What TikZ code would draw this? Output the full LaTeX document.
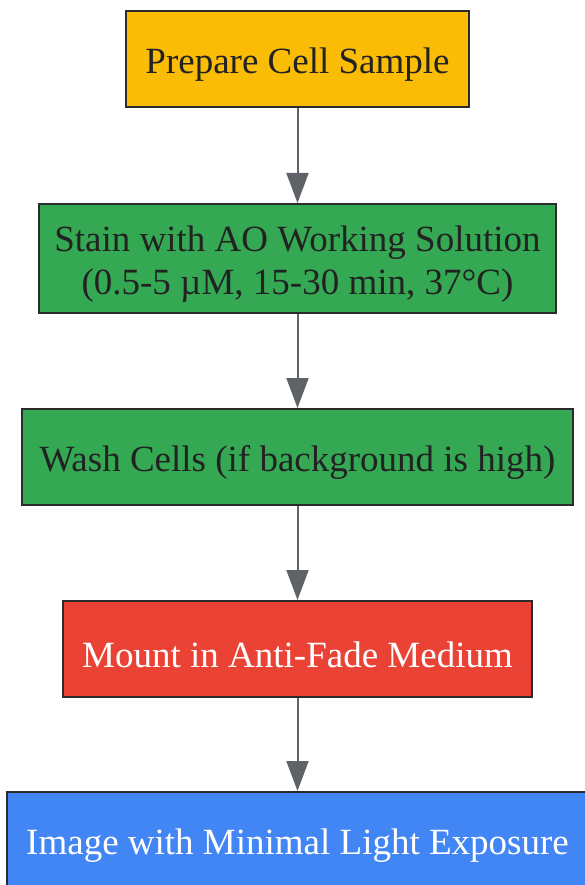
\documentclass[tikz,border=0pt]{standalone}
\usepackage{fontspec}
\setmainfont{Liberation Serif}
\usetikzlibrary{arrows.meta}
\definecolor{cyellow}{HTML}{FBBC05}
\definecolor{cgreen}{HTML}{34A853}
\definecolor{cred}{HTML}{EA4335}
\definecolor{cblue}{HTML}{4285F4}
\definecolor{cborder}{HTML}{2B2B2B}
\definecolor{carrow}{HTML}{5F6368}
\definecolor{cdark}{HTML}{222222}
\tikzset{
  box/.style={draw=cborder, line width=2pt, rectangle, inner sep=0pt},
  txt/.style={inner sep=0pt, align=center, font=\fontsize{37}{43}\selectfont, yshift=-5.5pt},
  conn/.style={draw=carrow, line width=2pt, -{Triangle[length=30pt,width=22pt]}}
}
\begin{document}
\begin{tikzpicture}[x=1pt,y=1pt]
\useasboundingbox (0,0) rectangle (585,-885);
\begin{scope}
\clip (0,0) rectangle (585,-885);
\node[box, fill=cyellow, minimum width=343pt, minimum height=96pt] (a) at (297.5,-59) {};
\node[box, fill=cgreen, minimum width=517pt, minimum height=109pt] (b) at (297.5,-258.5) {};
\node[box, fill=cgreen, minimum width=551pt, minimum height=96pt] (c) at (297.5,-457) {};
\node[box, fill=cred, minimum width=469pt, minimum height=96pt] (d) at (297.5,-649) {};
\node[box, fill=cblue, minimum width=581pt, minimum height=96pt] (e) at (297.5,-840) {};
\node[txt, text=cdark] (at) at (a.center) {Prepare Cell Sample};
\node[txt, text=cdark] (bt) at (b.center) {Stain with AO Working Solution\\(0.5-5 µM, 15-30 min, 37°C)};
\node[txt, text=cdark] (ct) at (c.center) {Wash Cells (if background is high)};
\node[txt, text=white] (dt) at (d.center) {Mount in Anti-Fade Medium};
\node[txt, text=white] (et) at (e.center) {Image with Minimal Light Exposure};
\draw[conn] (a.south) -- (b.north);
\draw[conn] (b.south) -- (c.north);
\draw[conn] (c.south) -- (d.north);
\draw[conn] (d.south) -- (e.north);
\end{scope}
\end{tikzpicture}
\end{document}
